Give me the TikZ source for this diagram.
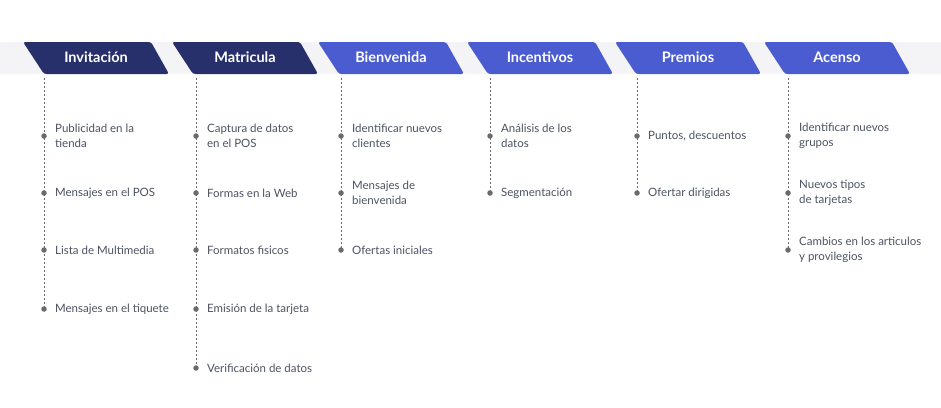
\documentclass[tikz,border=0pt]{standalone}
\usepackage{fontspec}
\setmainfont{Lato}
\usetikzlibrary{positioning}
\definecolor{navy}{RGB}{39,48,107}
\definecolor{indigo}{RGB}{74,92,208}
\definecolor{band}{RGB}{244,244,247}
\definecolor{itemgray}{RGB}{75,82,96}
\definecolor{dotgray}{RGB}{105,105,110}
\tikzset{
  tabtext/.style = {text=white, font=\fontsize{14.5}{16}\selectfont\bfseries},
  guide/.style   = {dotgray, line width=0.9pt, dash pattern=on 2pt off 2pt},
  pin/.style     = {circle, fill=dotgray, inner sep=0pt, minimum size=5.5pt},
  item/.style    = {text=itemgray, font=\fontsize{11.5}{15}\selectfont,
                    align=left, inner sep=0pt},
}

\begin{document}
\begin{tikzpicture}[x=1pt, y=-1pt]
  \useasboundingbox (0,0) rectangle (941,407);
  \fill[band] (0,42) rectangle (941,74);
  % stage tabs
  \foreach \name/\label/\col/\xo/\lx in {inv/Invitación/navy/23/44,
      mat/Matricula/navy/172/196, bie/Bienvenida/indigo/318/341,
      inc/Incentivos/indigo/467/490, pre/Premios/indigo/615/637,
      ace/Acenso/indigo/764/788} {
    \fill[\col, rounded corners=2.5pt] (\xo,42) -- ++(128,0) -- ++(18,32)
        -- ++(-125,0) -- cycle;
    \node[tabtext] (\name) at (\xo+73,57.5) {\label};
    \coordinate (\name-top) at (\lx,78);
  }
  % Invitación
  \foreach \k/\y/\txt in {1/136/{Publicidad en la\\tienda}, 2/193/{Mensajes en el POS},
      3/250/{Lista de Multimedia}, 4/309/{Mensajes en el tiquete}} {
    \node[pin] (inv\k) at (inv-top |- 0,\y) {};
    \node[item, right=8pt of inv\k] (inv\k-t) {\txt};
  }
  \draw[guide] (inv-top) -- (inv4.center);
  % Matricula
  \foreach \k/\y/\txt in {1/136/{Captura de datos\\en el POS}, 2/193/{Formas en la Web},
      3/250/{Formatos fisicos}, 4/309/{Emisión de la tarjeta},
      5/368/{Verificación de datos}} {
    \node[pin] (mat\k) at (mat-top |- 0,\y) {};
    \node[item, right=8pt of mat\k] (mat\k-t) {\txt};
  }
  \draw[guide] (mat-top) -- (mat5.center);
  % Bienvenida
  \foreach \k/\y/\txt in {1/136/{Identificar nuevos\\clientes},
      2/193/{Mensajes de\\bienvenida}, 3/250/{Ofertas iniciales}} {
    \node[pin] (bie\k) at (bie-top |- 0,\y) {};
    \node[item, right=8pt of bie\k] (bie\k-t) {\txt};
  }
  \draw[guide] (bie-top) -- (bie3.center);
  % Incentivos
  \foreach \k/\y/\txt in {1/136/{Análisis de los\\datos}, 2/193/{Segmentación}} {
    \node[pin] (inc\k) at (inc-top |- 0,\y) {};
    \node[item, right=8pt of inc\k] (inc\k-t) {\txt};
  }
  \draw[guide] (inc-top) -- (inc2.center);
  % Premios
  \foreach \k/\y/\txt in {1/136/{Puntos, descuentos}, 2/193/{Ofertar dirigidas}} {
    \node[pin] (pre\k) at (pre-top |- 0,\y) {};
    \node[item, right=8pt of pre\k] (pre\k-t) {\txt};
  }
  \draw[guide] (pre-top) -- (pre2.center);
  % Acenso
  \foreach \k/\y/\txt in {1/136/{Identificar nuevos\\grupos}, 2/193/{Nuevos tipos\\de tarjetas},
      3/250/{Cambios en los articulos\\y provilegios}} {
    \node[pin] (ace\k) at (ace-top |- 0,\y) {};
    \node[item, right=8pt of ace\k] (ace\k-t) {\txt};
  }
  \draw[guide] (ace-top) -- (ace3.center);
\end{tikzpicture}
\end{document}
